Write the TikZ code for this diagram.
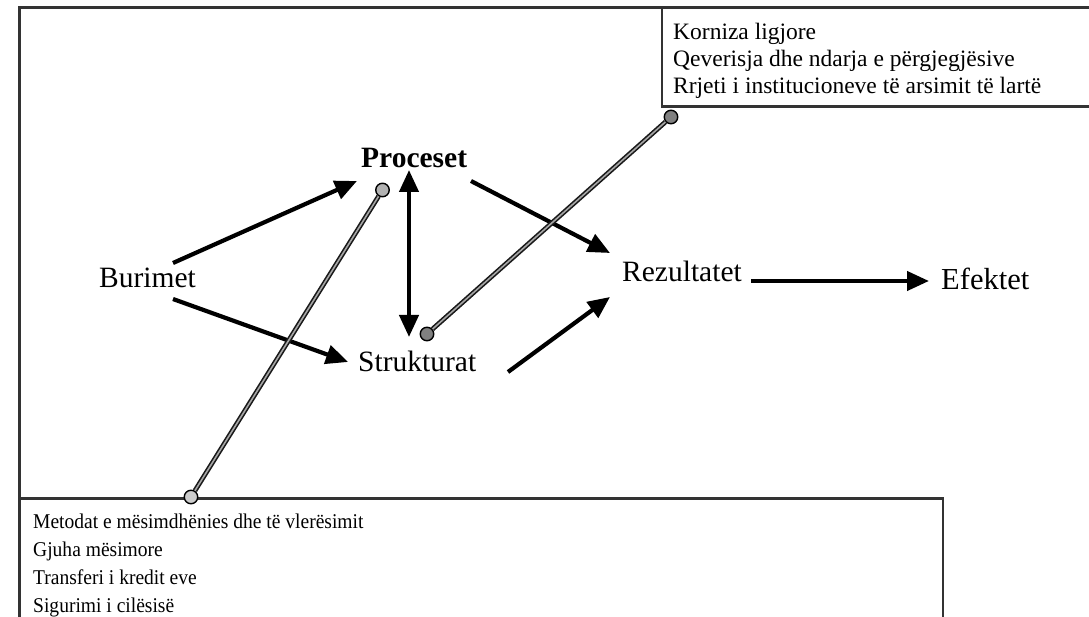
\documentclass[tikz,border=0pt]{standalone}
\usepackage{fontspec}
\setmainfont{Liberation Serif}
\newfontfamily\condserif[FakeStretch=0.93]{Liberation Serif}
\usetikzlibrary{arrows.meta}
\begin{document}
\begin{tikzpicture}[x=1pt,y=-1pt,
  lbl/.style={anchor=base west, inner sep=0pt, font=\fontsize{29.5}{34}\selectfont},
  toptxt/.style={anchor=base west, inner sep=0pt, font=\fontsize{23.5}{27}\selectfont},
  bottxt/.style={anchor=base west, inner sep=0pt, font=\condserif\fontsize{21}{28}\selectfont},
  frame/.style={draw=black!80, line width=2.4pt},
  arr/.style={line width=4.2pt, -{Triangle[length=22pt,width=19pt]}},
  darr/.style={line width=4.2pt, {Triangle[length=22pt,width=19pt]}-{Triangle[length=22pt,width=19pt]}},
  dbl/.style={line width=1.6pt, draw=black!90, double=black!35, double distance=1.6pt},
  knob/.style={circle, draw=black, line width=1.4pt, minimum size=13.5pt, inner sep=0pt},
]
\useasboundingbox (0,0) rectangle (1089,617);
\fill[white] (0,0) rectangle (1089,617);

% frames
\draw[frame] (19.5,617) -- (19.5,7.5) -- (1089,7.5);
\draw[frame] (662,7.5) -- (662,106.5) -- (1089,106.5);
\draw[frame] (19.5,498.5) -- (943,498.5) -- (943,617);

% box texts
\node[toptxt] (t1) at (673,40) {Korniza ligjore};
\node[toptxt] (t2) at (673,67) {Qeverisja dhe ndarja e përgjegjësive};
\node[toptxt] (t3) at (673,94) {Rrjeti i institucioneve të arsimit të lartë};

\node[bottxt] (m1) at (33,528) {Metodat e mësimdhënies dhe të vlerësimit};
\node[bottxt] (m2) at (33,556) {Gjuha mësimore};
\node[bottxt] (m3) at (33,584) {Transferi i kredit eve};
\node[bottxt] (m4) at (33,612) {Sigurimi i cilësisë};

% main labels
\node[lbl] (bur) at (99,288) {Burimet};
\node[lbl, font=\fontsize{29.5}{34}\selectfont\bfseries] (pro) at (361,168) {Proceset};
\node[lbl] (str) at (358,371) {Strukturat};
\node[lbl] (rez) at (622,282) {Rezultatet};
\node[lbl, font=\fontsize{30.5}{34}\selectfont] (efe) at (941,290) {Efektet};

% arrow end points
\coordinate (a1s) at (173,263);
\coordinate (a1e) at (357,181);
\coordinate (a2s) at (173,299);
\coordinate (a2e) at (348,362);
\coordinate (a3s) at (409,170);
\coordinate (a3e) at (409,337);
\coordinate (a4s) at (471,181);
\coordinate (a4e) at (610,253);
\coordinate (a5s) at (508,372);
\coordinate (a5e) at (610,297);
\coordinate (a6s) at (751,281);
\coordinate (a6e) at (929,281);

\draw[arr] (a1s) -- (a1e);
\draw[arr] (a2s) -- (a2e);
\draw[darr] (a3s) -- (a3e);
\draw[arr] (a4s) -- (a4e);
\draw[arr] (a5s) -- (a5e);
\draw[arr] (a6s) -- (a6e);

% knobs and double-line connectors
\node[knob, fill=black!20] (k1) at (191,497) {};
\node[knob, fill=black!30] (k2) at (382.5,190) {};
\node[knob, fill=black!50] (k3) at (427,334) {};
\node[knob, fill=black!50] (k4) at (671,117) {};
\draw[dbl] (k1) -- (k2);
\draw[dbl] (k3) -- (k4);
\end{tikzpicture}
\end{document}
